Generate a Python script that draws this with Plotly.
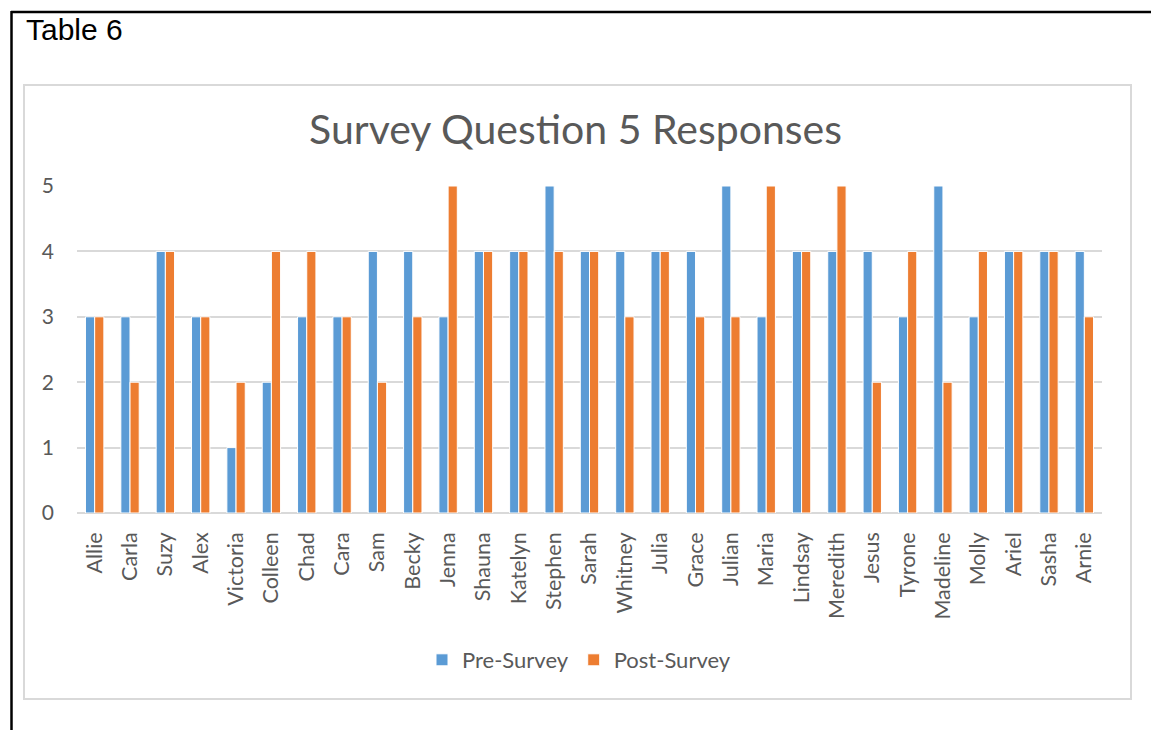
import plotly.graph_objects as go

names = ["Allie", "Carla", "Suzy", "Alex", "Victoria", "Colleen", "Chad", "Cara", "Sam", "Becky",
         "Jenna", "Shauna", "Katelyn", "Stephen", "Sarah", "Whitney", "Julia", "Grace", "Julian",
         "Maria", "Lindsay", "Meredith", "Jesus", "Tyrone", "Madeline", "Molly", "Ariel", "Sasha", "Arnie"]
pre_survey = [3, 3, 4, 3, 1, 2, 3, 3, 4, 4, 3, 4, 4, 5, 4, 4, 4, 4, 5, 3, 4, 4, 4, 3, 5, 3, 4, 4, 4]
post_survey = [3, 2, 4, 3, 2, 4, 4, 3, 2, 3, 5, 4, 4, 4, 4, 3, 4, 3, 3, 5, 4, 5, 2, 4, 2, 4, 4, 4, 3]
y_ticks = [0, 1, 2, 3, 4, 5]

W, H = 1151, 730
L, R, T, B = 77, 1102, 186, 513  # plot area in pixels

def px(x):
    return (x - L) / (R - L)

def py(y):
    return 1 - (y - T) / (B - T)

FONT = "Lato"
GRAY = "#595959"

fig = go.Figure()
fig.add_trace(go.Bar(x=names, y=pre_survey, name="Pre-Survey",
                     marker=dict(color="#5B9BD5", line=dict(color="white", width=1))))
fig.add_trace(go.Bar(x=names, y=post_survey, name="Post-Survey",
                     marker=dict(color="#ED7D31", line=dict(color="white", width=1))))

fig.update_layout(
    width=W, height=H,
    margin=dict(l=L, r=W - R, t=T, b=H - B),
    paper_bgcolor="white", plot_bgcolor="white",
    barmode="group", bargap=0.48, bargroupgap=0.0,
    font=dict(family=FONT, color=GRAY, size=20),
    title=dict(text="Survey Question 5 Responses", x=0.5, xanchor="center",
               xref="container", yref="container", y=1 - 130 / H, yanchor="middle",
               font=dict(family=FONT, size=41, color=GRAY)),
    xaxis=dict(tickangle=-90, showgrid=False, showline=False, ticks="",
               tickfont=dict(size=21.5, color=GRAY, family=FONT), ticklabelstandoff=14),
    yaxis=dict(range=[0, 5], tickvals=y_ticks, showgrid=True, gridcolor="#D9D9D9", gridwidth=1.5,
               zeroline=True, zerolinecolor="#D9D9D9", zerolinewidth=1.5, showline=False, ticks="",
               tickfont=dict(size=21, color=GRAY, family=FONT), ticklabelstandoff=22),
    legend=dict(orientation="h", x=px(579), xanchor="center", y=py(660), yanchor="middle",
                font=dict(size=22, color=GRAY, family=FONT), itemwidth=30, traceorder="normal"),
    showlegend=True,
)

# inner chart frame
fig.add_shape(type="rect", xref="paper", yref="paper",
              x0=px(24), x1=px(1131), y0=py(85), y1=py(699),
              line=dict(color="#D9D9D9", width=2), fillcolor="rgba(0,0,0,0)", layer="below")
# outer table borders (top and left)
fig.add_shape(type="line", xref="paper", yref="paper",
              x0=px(11), x1=px(1151), y0=py(12), y1=py(12), line=dict(color="black", width=2.5))
fig.add_shape(type="line", xref="paper", yref="paper",
              x0=px(11.5), x1=px(11.5), y0=py(11), y1=py(730), line=dict(color="black", width=2.5))

fig.add_annotation(text="Table 6", xref="paper", yref="paper", x=px(24), y=py(29),
                   xanchor="left", yanchor="middle", showarrow=False,
                   font=dict(family="Liberation Sans", size=30, color="black"))

fig.write_html("out.html")
